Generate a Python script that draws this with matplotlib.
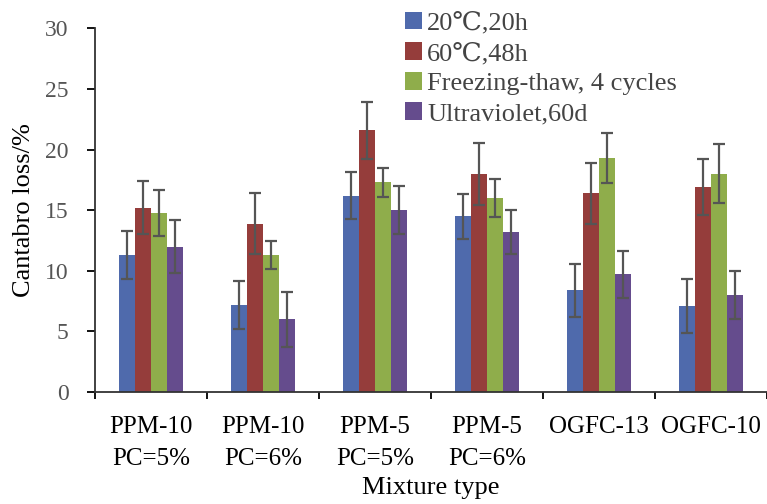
#!/usr/bin/env python3
"""Cantabro loss of mixtures under four ageing conditions (grouped bars)."""

import numpy as np
import matplotlib
matplotlib.use("Agg")
import matplotlib.pyplot as plt
from matplotlib.ticker import FixedLocator, NullFormatter

categories = ["PPM-10\nPC=5%", "PPM-10\nPC=6%", "PPM-5\nPC=5%",
              "PPM-5\nPC=6%", "OGFC-13", "OGFC-10"]
series_names = ["20℃,20h", "60℃,48h", "Freezing-thaw, 4 cycles", "Ultraviolet,60d"]

loss_20c = [11.3, 7.2, 16.2, 14.5, 8.4, 7.1]
loss_60c = [15.2, 13.9, 21.6, 18.0, 16.4, 16.9]
loss_freeze = [14.8, 11.3, 17.3, 16.0, 19.3, 18.0]
loss_uv = [12.0, 6.0, 15.0, 13.2, 9.7, 8.0]

err_20c = [2.0, 2.0, 1.95, 1.85, 2.2, 2.2]
err_60c = [2.2, 2.5, 2.35, 2.55, 2.5, 2.3]
err_freeze = [1.9, 1.15, 1.2, 1.55, 2.1, 2.45]
err_uv = [2.2, 2.25, 2.0, 1.85, 1.9, 2.0]

colors = ["#4F6AAC", "#953D3B", "#8FAD4B", "#654C8D"]

FONT = ["Liberation Serif", "DejaVu Serif", "Noto Sans CJK SC"]
plt.rcParams.update({
    "font.family": FONT,
    "axes.linewidth": 1.3,
    "axes.edgecolor": "#333333",
})

fig = plt.figure(figsize=(7.67, 5.04), dpi=100, facecolor="white")
ax = fig.add_axes([0.124, 0.222, 0.876, 0.722])

values = [loss_20c, loss_60c, loss_freeze, loss_uv]
errors = [err_20c, err_60c, err_freeze, err_uv]
x = np.arange(len(categories)) + 0.5
w = 0.142
for i, (vals, errs) in enumerate(zip(values, errors)):
    ax.bar(x + (i - 1.5) * w, vals, width=w, color=colors[i],
           label=series_names[i], zorder=2,
           yerr=errs, error_kw=dict(ecolor="#555555", elinewidth=1.6,
                                    capsize=4.5, capthick=1.6, zorder=3))

ax.set_xlim(0, len(categories))
ax.set_ylim(0, 30)
ax.set_yticks(range(0, 31, 5))
ax.tick_params(axis="y", direction="out", length=6, width=1.3,
               labelsize=17, labelcolor="#555555", pad=13)

ax.xaxis.set_major_locator(FixedLocator(np.arange(len(categories) + 1)))
ax.xaxis.set_major_formatter(NullFormatter())
ax.xaxis.set_minor_locator(FixedLocator(x))
ax.set_xticklabels(categories, minor=True, fontsize=18, linespacing=1.6,
                   va="top")
ax.tick_params(axis="x", which="major", direction="out", length=5, width=1.3)
ax.tick_params(axis="x", which="minor", length=0, pad=17)

for side in ("top", "right"):
    ax.spines[side].set_visible(False)

ax.set_ylabel("Cantabro loss/%", fontsize=19)
ax.yaxis.set_label_coords(-0.089, 0.5)
fig.text(0.562, 0.032, "Mixture type", ha="center", va="center", fontsize=19)

fig.legend(loc="upper left", bbox_to_anchor=(0.512, 1.0), frameon=False,
           fontsize=19, handlelength=0.65, handleheight=0.65, handletextpad=0.2,
           labelspacing=0.27, borderaxespad=0.05,
           labelcolor="#444444")

fig.savefig("out.png", dpi=100, facecolor="white")
